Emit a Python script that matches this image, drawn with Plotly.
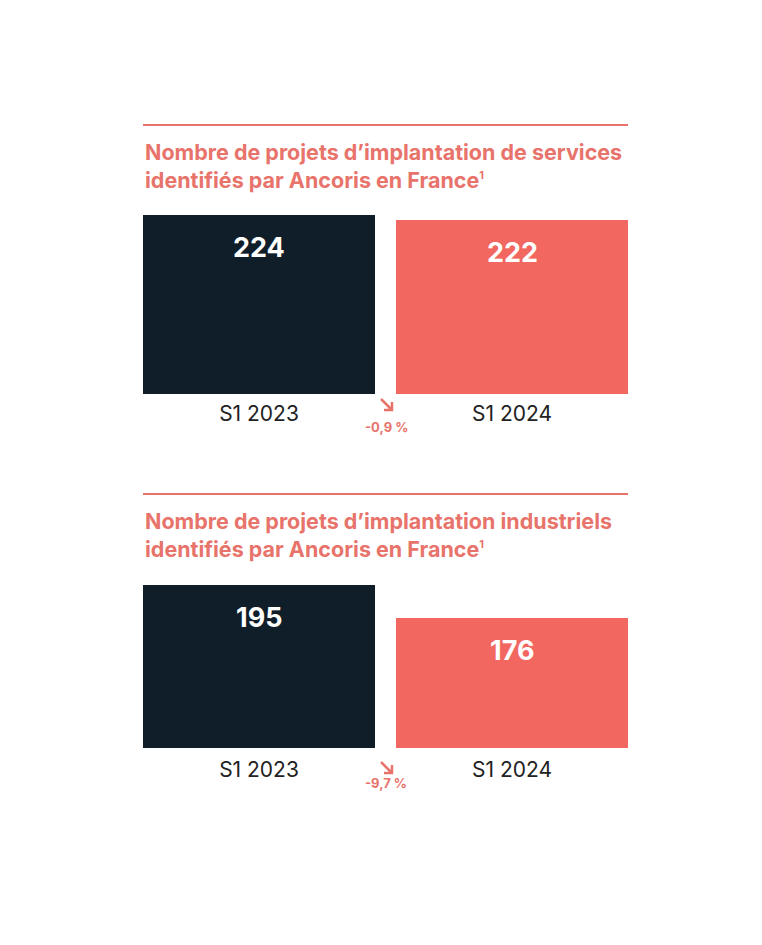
import plotly.graph_objects as go

W, H = 762, 945
OFF = 8  # page body margin

categories = ["S1 2023", "S1 2024"]
services_values = [224, 222]
industrial_values = [195, 176]
services_change = "-0,9 %"
industrial_change = "-9,7 %"
SUP1 = "<sup><span style='font-size:11px'>1</span></sup>"
title_services = "Nombre de projets d’implantation de services<br>identifiés par Ancoris en France" + SUP1
title_industrial = "Nombre de projets d’implantation industriels<br>identifiés par Ancoris en France" + SUP1

DARK = "#101E2A"
PINK = "#F26861"
SALMON = "#E8736B"
FONT = "Inter"

def px_x(p):
    return (p - OFF) / W

def px_y(p):
    return 1 - (p - OFF) / H

x_pos = [0, 1]
bar_colors = [DARK, PINK]

fig = go.Figure()
fig.add_trace(go.Bar(x=x_pos, y=services_values, width=0.917, marker=dict(color=bar_colors, line=dict(width=0)),
                     xaxis="x", yaxis="y", hoverinfo="skip"))
fig.add_trace(go.Bar(x=x_pos, y=industrial_values, width=0.917, marker=dict(color=bar_colors, line=dict(width=0)),
                     xaxis="x2", yaxis="y2", hoverinfo="skip"))

xdom = [px_x(143), px_x(628)]
xrange = [-0.4585, 1.4585]
axis_common = dict(showgrid=False, zeroline=False, showline=False)
tickfont = dict(family=FONT, size=21, color="#222222")

fig.update_layout(
    width=W, height=H, margin=dict(l=0, r=0, t=0, b=0),
    paper_bgcolor="white", plot_bgcolor="white", showlegend=False,
    xaxis=dict(domain=xdom, range=xrange, anchor="y", tickvals=x_pos, ticktext=categories,
               tickfont=tickfont, ticks="", ticklabelstandoff=5, **axis_common),
    yaxis=dict(domain=[px_y(394), px_y(215)], range=[152.4, 224], anchor="x", visible=False, **axis_common),
    xaxis2=dict(domain=xdom, range=xrange, anchor="y2", tickvals=x_pos, ticktext=categories,
                tickfont=tickfont, ticks="", ticklabelstandoff=7, **axis_common),
    yaxis2=dict(domain=[px_y(748), px_y(585)], range=[101.2, 195], anchor="x2", visible=False, **axis_common),
)

# separator lines
for yl in (125, 494):
    fig.add_shape(type="line", xref="paper", yref="paper", x0=px_x(143), x1=px_x(628),
                  y0=px_y(yl), y1=px_y(yl), line=dict(color=SALMON, width=2))

# titles
for txt, yt in ((title_services, 137), (title_industrial, 506)):
    fig.add_annotation(text=txt, xref="paper", yref="paper", x=px_x(143), y=px_y(yt),
                       xanchor="left", yanchor="top", showarrow=False, align="left",
                       font=dict(family=FONT, size=21.5, color=SALMON, weight="bold"))

# value labels
for xa, ya, vals in (("x", "y", services_values), ("x2", "y2", industrial_values)):
    for xv, v in zip(x_pos, vals):
        fig.add_annotation(text=str(v), x=xv, y=v, xref=xa, yref=ya, showarrow=False,
                           yanchor="middle", yshift=-32,
                           font=dict(family=FONT, size=27, color="white", weight="bold"))

# change arrows and labels
for ch, ay, ty in ((services_change, 405, 427), (industrial_change, 768, 783)):
    x0, y0 = 381, ay - 6
    x1, y1 = 392, ay + 5
    path = (f"M {px_x(x0)},{px_y(y0)} L {px_x(x1)},{px_y(y1)} "
            f"M {px_x(x1 - 8)},{px_y(y1)} L {px_x(x1)},{px_y(y1)} L {px_x(x1)},{px_y(y1 - 8)}")
    fig.add_shape(type="path", xref="paper", yref="paper", path=path,
                  line=dict(color=SALMON, width=2.5))
    fig.add_annotation(text=ch, xref="paper", yref="paper", x=px_x(386), y=px_y(ty),
                       showarrow=False, xanchor="center", yanchor="middle",
                       font=dict(family=FONT, size=13, color=SALMON, weight="bold"))

fig.write_html("out.html")
